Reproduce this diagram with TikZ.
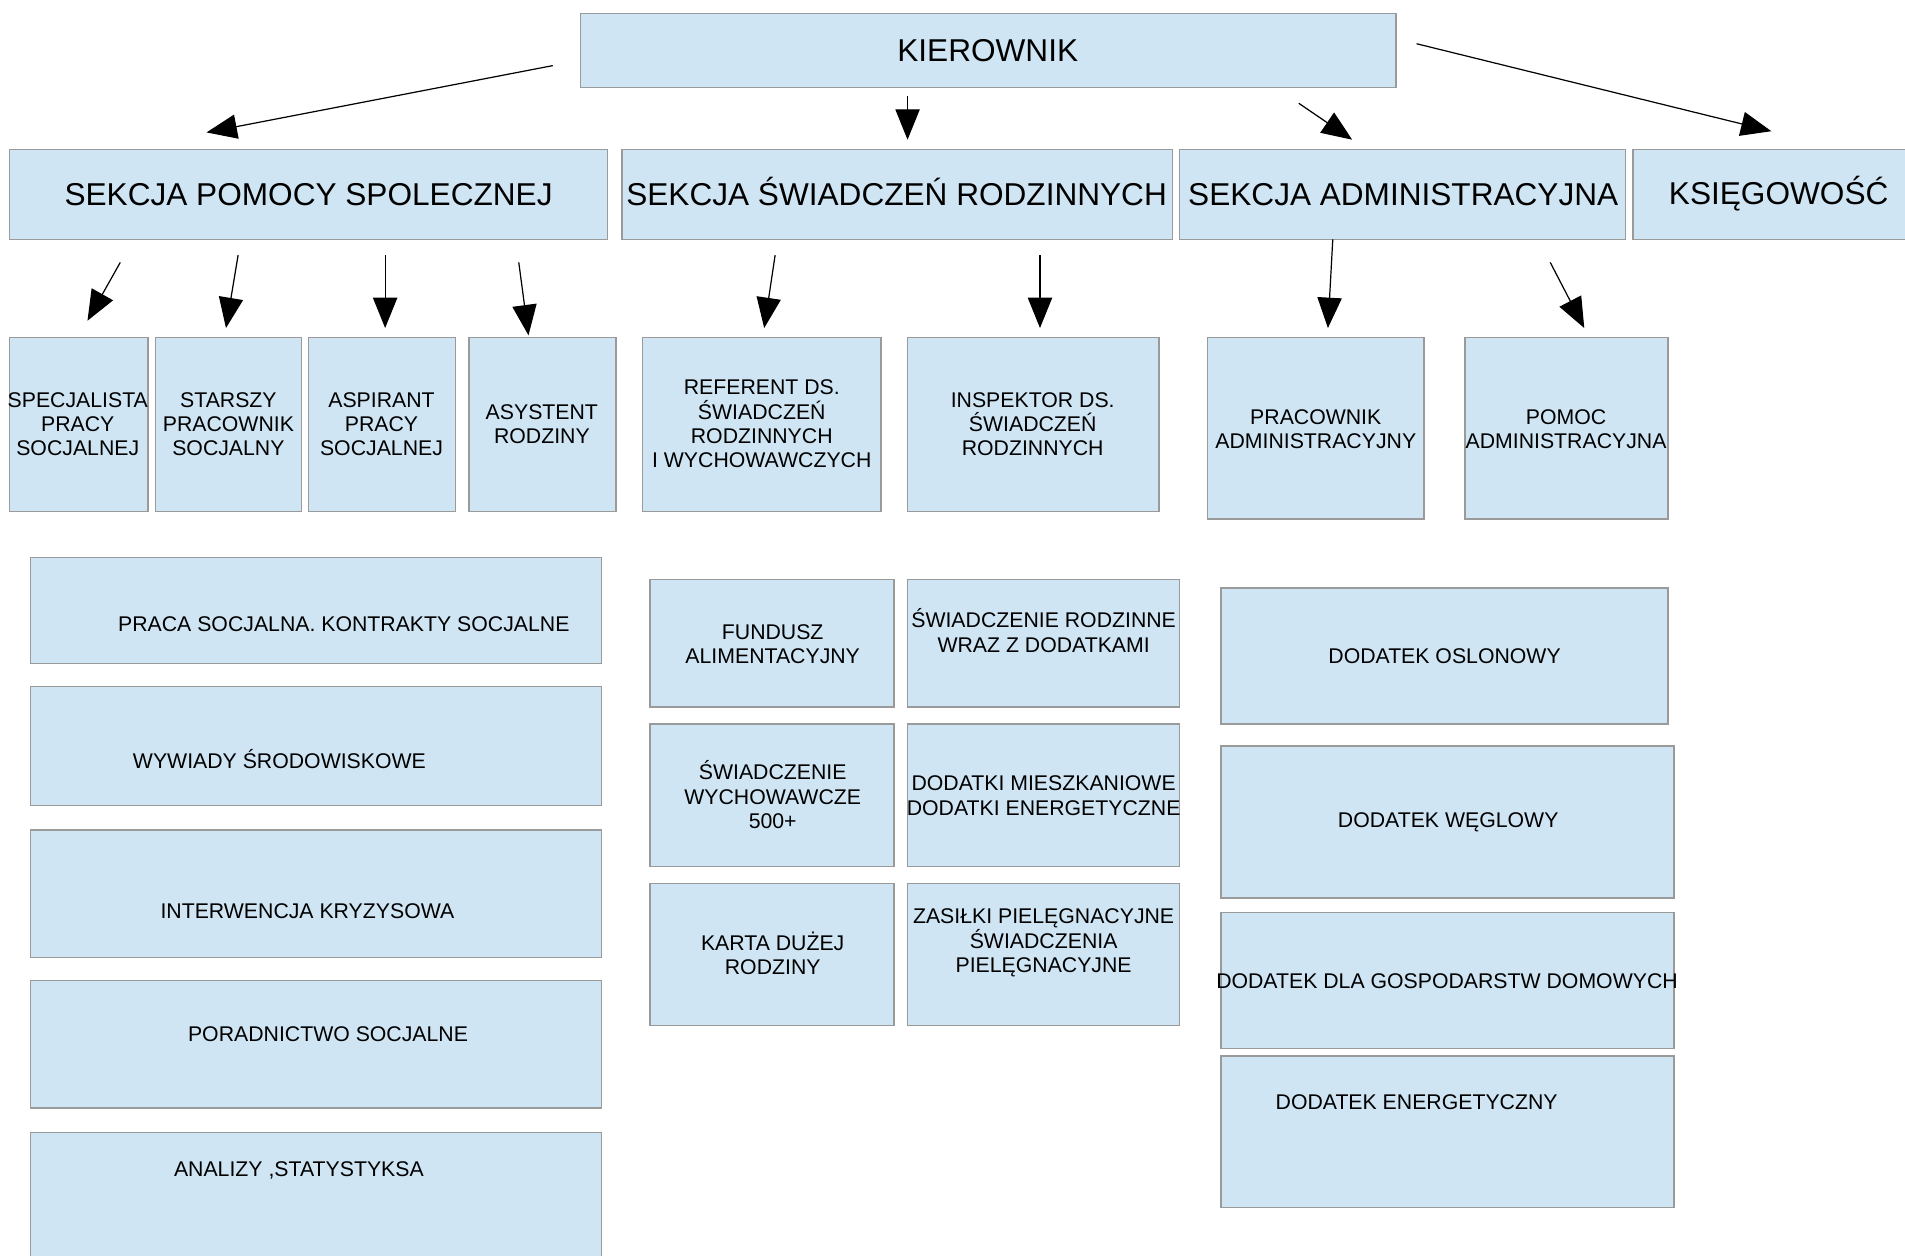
\documentclass[tikz,border=0pt]{standalone}
\usepackage{fontspec}
\setmainfont{Liberation Sans}
\usetikzlibrary{arrows.meta,fit}
\definecolor{boxfill}{HTML}{CFE5F3}
\definecolor{boxline}{HTML}{9A9A9A}
\tikzset{
  box/.style={draw=boxline,fill=boxfill,line width=0.6pt,inner sep=0pt},
  big/.style={font=\fontsize{13}{15}\selectfont,inner sep=0pt},
  lab/.style={font=\fontsize{8.75}{10}\selectfont,align=center,inner sep=0pt},
  arr/.style={line width=0.5pt,-{Triangle[length=12.5pt,width=10pt]}}
}
\begin{document}
\begin{tikzpicture}[x=0.5pt,y=-0.5pt]
\useasboundingbox (0,0) rectangle (1568,1033);

% top
\node[box,fit={(478,11) (1149,72)}] (kierB) {};
\node[big] (kier) at (813,42) {KIEROWNIK};
\node[box,fit={(8,123) (500,197)}] (pomocB) {};
\node[big] (pomoc) at (254,160) {SEKCJA POMOCY SPOLECZNEJ};
\node[box,fit={(512,123) (965,197)}] (swiadB) {};
\node[big] (swiad) at (738,158) {SEKCJA ŚWIADCZEŃ RODZINNYCH};
\node[box,fit={(971,123) (1338,197)}] (adminB) {};
\node[big] (admin) at (1155,160) {SEKCJA ADMINISTRACYJNA};
\node[box,fit={(1344,123) (1584,197)}] (ksiegB) {};
\node[big] (ksieg) at (1464,159) {KSIĘGOWOŚĆ};

% stanowiska
\node[box,fit={(8,278) (122,421)}] (specB) {};
\node[lab] (spec) at (64,349) {SPECJALISTA\\PRACY\\SOCJALNEJ};
\node[box,fit={(128,278) (248,421)}] (starszyB) {};
\node[lab] (starszy) at (188,349) {STARSZY\\PRACOWNIK\\SOCJALNY};
\node[box,fit={(254,278) (375,421)}] (aspirB) {};
\node[lab] (aspir) at (314,349) {ASPIRANT\\PRACY\\SOCJALNEJ};
\node[box,fit={(386,278) (507,421)}] (asystB) {};
\node[lab] (asyst) at (446,349) {ASYSTENT\\RODZINY};
\node[box,fit={(529,278) (725,421)}] (refB) {};
\node[lab] (ref) at (627,349) {REFERENT DS.\\ŚWIADCZEŃ\\RODZINNYCH\\I WYCHOWAWCZYCH};
\node[box,fit={(747,278) (954,421)}] (inspB) {};
\node[lab] (insp) at (850,349) {INSPEKTOR DS.\\ŚWIADCZEŃ\\RODZINNYCH};
\node[box,fit={(994,278) (1172,427)}] (pracB) {};
\node[lab] (prac) at (1083,353) {PRACOWNIK\\ADMINISTRACYJNY};
\node[box,fit={(1206,278) (1373,427)}] (pomadmB) {};
\node[lab] (pomadm) at (1289,353) {POMOC\\ADMINISTRACYJNA};

% zadania - pomoc spoleczna
\node[box,fit={(25,459) (495,546)}] (pracaB) {};
\node[lab] (praca) at (283,514) {PRACA SOCJALNA. KONTRAKTY SOCJALNE};
\node[box,fit={(25,565) (495,663)}] (wywB) {};
\node[lab] (wyw) at (230,625) {WYWIADY ŚRODOWISKOWE};
\node[box,fit={(25,683) (495,788)}] (interB) {};
\node[lab] (inter) at (253,750) {INTERWENCJA KRYZYSOWA};
\node[box,fit={(25,807) (495,912)}] (poradB) {};
\node[lab] (porad) at (270,851) {PORADNICTWO SOCJALNE};
\node[box,fit={(25,932) (495,1045)}] (analB) {};
\node[lab] (anal) at (246,963) {ANALIZY ,STATYSTYKSA};

% zadania - swiadczenia
\node[box,fit={(535,477) (736,582)}] (fundB) {};
\node[lab] (fund) at (636,530) {FUNDUSZ\\ALIMENTACYJNY};
\node[box,fit={(747,477) (971,582)}] (swrodzB) {};
\node[lab] (swrodz) at (859,519) {ŚWIADCZENIE RODZINNE\\WRAZ Z DODATKAMI};
\node[box,fit={(535,596) (736,713)}] (swwychB) {};
\node[lab] (swwych) at (636,654) {ŚWIADCZENIE\\WYCHOWAWCZE\\500+};
\node[box,fit={(747,596) (971,713)}] (mieszB) {};
\node[lab] (miesz) at (859,655) {DODATKI MIESZKANIOWE\\DODATKI ENERGETYCZNE};
\node[box,fit={(535,727) (736,844)}] (kartaB) {};
\node[lab] (karta) at (636,785) {KARTA DUŻEJ\\RODZINY};
\node[box,fit={(747,727) (971,844)}] (zasB) {};
\node[lab] (zas) at (859,776) {ZASIŁKI PIELĘGNACYJNE\\ŚWIADCZENIA\\PIELĘGNACYJNE};

% zadania - administracja
\node[box,fit={(1005,484) (1373,596)}] (oslB) {};
\node[lab] (osl) at (1189,540) {DODATEK OSLONOWY};
\node[box,fit={(1005,614) (1378,739)}] (weglB) {};
\node[lab] (wegl) at (1192,677) {DODATEK WĘGLOWY};
\node[box,fit={(1005,751) (1378,863)}] (gospB) {};
\node[lab] (gosp) at (1191,808) {DODATEK DLA GOSPODARSTW DOMOWYCH};
\node[box,fit={(1005,869) (1378,994)}] (energB) {};
\node[lab] (energ) at (1166,907) {DODATEK ENERGETYCZNY};

% strzalki
\coordinate (k1) at (455,54);   \coordinate (k1e) at (170,109);
\coordinate (k2) at (747,79);   \coordinate (k2e) at (747,115);
\coordinate (k3) at (1069,85);  \coordinate (k3e) at (1113,115);
\coordinate (k4) at (1166,36);  \coordinate (k4e) at (1458,108);
\coordinate (p1) at (99,216);   \coordinate (p1e) at (72,264);
\coordinate (p2) at (196,210);  \coordinate (p2e) at (186,270);
\coordinate (p3) at (317,210);  \coordinate (p3e) at (317,270);
\coordinate (p4) at (427,216);  \coordinate (p4e) at (435,276);
\coordinate (s1) at (638,210);  \coordinate (s1e) at (629,270);
\coordinate (s2) at (856,210);  \coordinate (s2e) at (856,270);
\coordinate (a1) at (1097,197); \coordinate (a1e) at (1093,270);
\coordinate (a2) at (1276,216); \coordinate (a2e) at (1304,270);
\draw[arr] (k1) -- (k1e);
\draw[arr] (k2) -- (k2e);
\draw[arr] (k3) -- (k3e);
\draw[arr] (k4) -- (k4e);
\draw[arr] (p1) -- (p1e);
\draw[arr] (p2) -- (p2e);
\draw[arr] (p3) -- (p3e);
\draw[arr] (p4) -- (p4e);
\draw[arr] (s1) -- (s1e);
\draw[arr] (s2) -- (s2e);
\draw[arr] (a1) -- (a1e);
\draw[arr] (a2) -- (a2e);

\end{tikzpicture}
\end{document}
